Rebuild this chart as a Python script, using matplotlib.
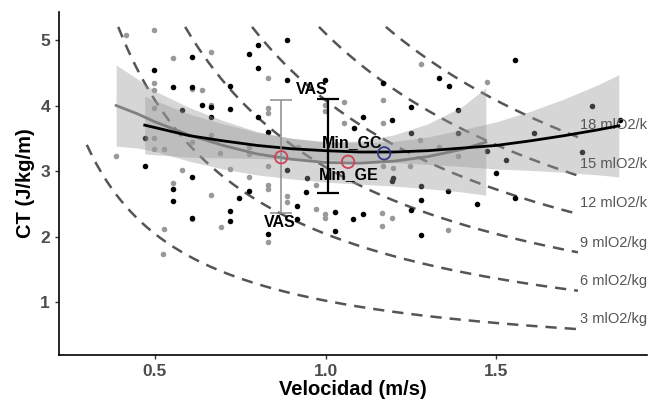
import matplotlib
matplotlib.use("Agg")
import matplotlib.pyplot as plt
import numpy as np

plt.rcParams["font.family"] = ["Liberation Sans", "DejaVu Sans"]

# scatter points (velocity m/s, CT J/kg/m)
black_v = [0.609, 0.498, 0.554, 0.609, 0.720, 0.776, 0.803, 0.803, 0.637, 0.664,
           0.664, 0.720, 0.580, 0.803, 0.471, 0.471, 0.609, 0.554, 0.554, 0.776,
           0.747, 0.720, 0.720, 0.609, 0.888, 0.888, 0.999, 1.111, 1.084, 1.168,
           1.196, 1.250, 1.334, 1.250, 0.832, 0.945, 0.886, 0.916, 1.028, 1.111,
           1.082, 1.197, 0.943, 0.916, 1.028, 0.832, 1.194, 1.279, 1.279, 1.250,
           1.279, 1.360, 1.473, 1.751, 1.528, 1.500, 1.445, 1.557, 1.556, 1.361,
           1.389, 1.389, 1.611, 1.781, 1.864]
black_ct = [4.74, 4.54, 4.28, 4.29, 4.30, 4.78, 4.93, 4.58, 4.01, 3.97,
            3.83, 3.94, 3.93, 3.83, 3.50, 3.07, 2.91, 2.73, 2.54, 2.70,
            2.59, 2.39, 2.23, 2.28, 5.00, 4.39, 4.39, 3.83, 3.65, 4.34,
            3.78, 3.97, 4.42, 3.58, 3.60, 2.89, 3.02, 2.47, 2.38, 2.34,
            2.27, 2.90, 2.68, 2.26, 2.09, 2.04, 2.84, 2.77, 2.56, 2.41,
            2.03, 2.69, 3.31, 3.29, 3.17, 2.97, 2.50, 2.59, 4.69, 4.30,
            3.93, 3.58, 3.58, 3.99, 3.78]

gray_v = [0.414, 0.498, 0.554, 0.664, 0.498, 0.498, 0.609, 0.637, 0.664, 0.498,
          0.498, 0.498, 0.526, 0.609, 0.664, 0.691, 0.776, 0.776, 0.386, 0.580,
          0.720, 0.776, 0.554, 0.664, 0.609, 0.526, 0.693, 0.524, 0.832, 0.999,
          1.055, 0.832, 0.832, 1.055, 1.168, 1.168, 1.279, 1.334, 0.920, 1.168,
          1.197, 0.832, 0.832, 0.832, 0.886, 0.886, 0.971, 0.971, 0.999, 0.999,
          1.167, 1.194, 1.167, 0.832, 1.360, 1.389, 1.473, 1.277, 1.248, 0.999]
gray_ct = [5.08, 5.15, 4.72, 4.81, 4.35, 4.23, 4.25, 4.23, 4.01, 3.96,
           3.51, 3.33, 3.33, 3.45, 3.55, 3.27, 3.37, 3.26, 3.23, 3.02,
           3.03, 2.91, 2.82, 2.63, 2.26, 2.11, 2.14, 1.74, 4.42, 4.01,
           4.06, 3.96, 3.89, 3.73, 4.08, 3.73, 4.63, 3.37, 3.37, 3.07,
           3.04, 3.07, 2.79, 2.72, 2.62, 2.52, 2.79, 2.42, 2.35, 2.28,
           2.36, 2.29, 2.16, 1.91, 2.10, 3.23, 4.36, 3.48, 3.07, 3.92]

# quadratic fits (fit, lower, upper)
fit_black_v = [0.47, 0.60, 0.70, 0.80, 0.90, 1.00, 1.10, 1.20, 1.30, 1.40, 1.50, 1.60, 1.70, 1.80, 1.86]
fit_black = [3.70, 3.54, 3.46, 3.39, 3.34, 3.31, 3.29, 3.29, 3.31, 3.35, 3.39, 3.46, 3.54, 3.63, 3.69]
fit_black_lo = [3.26, 3.21, 3.20, 3.19, 3.18, 3.17, 3.15, 3.13, 3.10, 3.07, 3.03, 3.01, 2.98, 2.94, 2.91]
fit_black_hi = [4.14, 3.87, 3.72, 3.59, 3.50, 3.45, 3.43, 3.45, 3.52, 3.63, 3.75, 3.91, 4.10, 4.32, 4.47]

fit_gray_v = [0.386, 0.45, 0.50, 0.60, 0.70, 0.80, 0.90, 1.00, 1.10, 1.20, 1.30, 1.40, 1.47]
fit_gray = [4.00, 3.87, 3.75, 3.55, 3.39, 3.26, 3.18, 3.13, 3.12, 3.15, 3.22, 3.33, 3.44]
fit_gray_lo = [3.38, 3.35, 3.30, 3.15, 3.03, 2.94, 2.88, 2.83, 2.80, 2.77, 2.73, 2.68, 2.63]
fit_gray_hi = [4.62, 4.40, 4.22, 3.97, 3.77, 3.60, 3.50, 3.44, 3.46, 3.55, 3.72, 3.98, 4.27]

# VAS error bars and minima
vas_gray = (0.87, 2.36, 4.08)
vas_black = (1.007, 2.66, 4.10)
min_red_v = [0.87, 1.066]
min_red_ct = [3.21, 3.14]
min_blue_v = [1.172]
min_blue_ct = [3.27]

# iso-VO2 lines: CT = k * VO2 / v
vo2_levels = [3, 6, 9, 12, 15, 18]
vo2_label_ct = [0.74, 1.32, 1.90, 2.51, 3.10, 3.70]
k_energy = 0.34


def main():
    fig = plt.figure(figsize=(6.59, 4.01), dpi=100)
    ax = fig.add_axes([0.0895, 0.1147, 0.8925, 0.8553])

    for vo2, lab_y in zip(vo2_levels, vo2_label_ct):
        v0 = max(0.3, k_energy * vo2 / 5.2)
        v = np.linspace(v0, 1.74, 200)
        ax.plot(v, k_energy * vo2 / v, color="#555555", lw=1.8,
                dashes=(4.5, 3.2), zorder=2)
        ax.text(1.746, lab_y, f"{vo2} mlO2/kg", color="#555555", fontsize=10.5,
                ha="left", va="center", clip_on=True, zorder=5)

    ax.scatter(gray_v, gray_ct, s=16, color="#999999", lw=0, zorder=3)
    ax.scatter(black_v, black_ct, s=16, color="black", lw=0, zorder=3)

    ax.fill_between(fit_gray_v, fit_gray_lo, fit_gray_hi, color="#999999", alpha=0.4, lw=0, zorder=4)
    ax.fill_between(fit_black_v, fit_black_lo, fit_black_hi, color="#999999", alpha=0.4, lw=0, zorder=4)
    ax.plot(fit_gray_v, fit_gray, color="#808080", lw=2, zorder=5)
    ax.plot(fit_black_v, fit_black, color="black", lw=2, zorder=5)

    ax.errorbar([vas_gray[0]], [(vas_gray[1] + vas_gray[2]) / 2],
                yerr=[[(vas_gray[2] - vas_gray[1]) / 2]], color="#8c8c8c",
                lw=1.1, capsize=8, capthick=1.1, zorder=6)
    ax.errorbar([vas_black[0]], [(vas_black[1] + vas_black[2]) / 2],
                yerr=[[(vas_black[2] - vas_black[1]) / 2]], color="black",
                lw=1.6, capsize=8, capthick=1.6, zorder=6)

    ax.scatter(min_red_v, min_red_ct, s=80, facecolors="none", edgecolors="#cc4455", lw=1.3, zorder=7)
    ax.scatter(min_blue_v, min_blue_ct, s=80, facecolors="none", edgecolors="#35358c", lw=1.3, zorder=7)

    lab_kw = dict(fontsize=11.5, fontweight="bold", ha="center", va="center", zorder=8)
    ax.text(0.96, 4.25, "VAS", **lab_kw)
    ax.text(0.867, 2.21, "VAS", **lab_kw)
    ax.text(1.078, 3.44, "Min_GC", **lab_kw)
    ax.text(1.069, 2.95, "Min_GE", **lab_kw)

    ax.set_xlim(0.2185, 1.943)
    ax.set_ylim(0.191, 5.427)
    ax.set_xticks([0.5, 1.0, 1.5])
    ax.set_xticklabels(["0.5", "1.0", "1.5"])
    ax.set_yticks([1, 2, 3, 4, 5])
    for sp in ["top", "right"]:
        ax.spines[sp].set_visible(False)
    for sp in ["left", "bottom"]:
        ax.spines[sp].set_linewidth(1.2)
    ax.tick_params(length=3, width=1, color="#333333", labelcolor="#4d4d4d", labelsize=12.5)
    for lbl in ax.get_xticklabels() + ax.get_yticklabels():
        lbl.set_fontweight("bold")
    ax.set_xlabel("Velocidad (m/s)", fontsize=14.5, fontweight="bold", labelpad=1)
    ax.set_ylabel("CT (J/kg/m)", fontsize=14.5, fontweight="bold", labelpad=4)

    fig.savefig("out.png", dpi=100)


main()
